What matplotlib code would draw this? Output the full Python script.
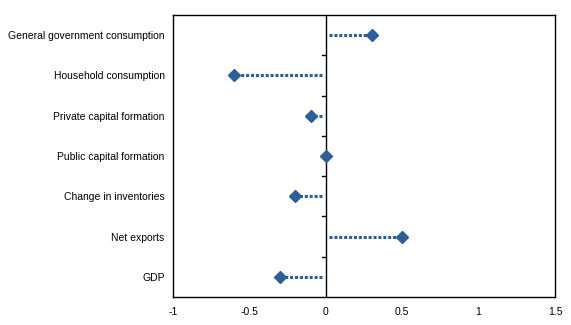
import matplotlib.pyplot as plt
import numpy as np

plt.rcParams['font.family'] = ['Liberation Sans', 'DejaVu Sans']

categories = ['General government consumption', 'Household consumption',
              'Private capital formation', 'Public capital formation',
              'Change in inventories', 'Net exports', 'GDP']
values = [0.30, -0.60, -0.10, 0.0, -0.20, 0.50, -0.30]
xticks = [-1, -0.5, 0, 0.5, 1, 1.5]

blue = '#2E5E96'

fig = plt.figure(figsize=(5.71, 3.25), dpi=100)
ax = fig.add_axes([173 / 571, 1 - 297 / 325, 382 / 571, 282 / 325])

y = np.arange(len(categories))
vals = np.array(values)
gap = 0.022
start = np.sign(vals) * gap
mask = vals != 0
ax.hlines(y[mask], start[mask], vals[mask], color=blue, lw=2.2,
          linestyles=(0, (1, 0.6)))
ax.plot(vals, y, 'D', color=blue, ms=6, zorder=3)

# zero line with category dividers
ax.axvline(0, color='black', lw=1)
for b in np.arange(len(categories) - 1) + 0.5:
    ax.plot([-0.025, 0], [b, b], color='black', lw=1)

ax.set_xlim(-1, 1.5)
ax.set_ylim(len(categories) - 0.5, -0.5)
ax.set_xticks(xticks)
ax.set_xticklabels(['-1', '-0.5', '0', '0.5', '1', '1.5'])
ax.set_yticks(y)
ax.set_yticklabels(categories)
ax.tick_params(length=0, labelsize=7.5, pad=6)
ax.tick_params(axis='x', pad=7)
for s in ax.spines.values():
    s.set_linewidth(1)

fig.savefig('out.png', dpi=100)
